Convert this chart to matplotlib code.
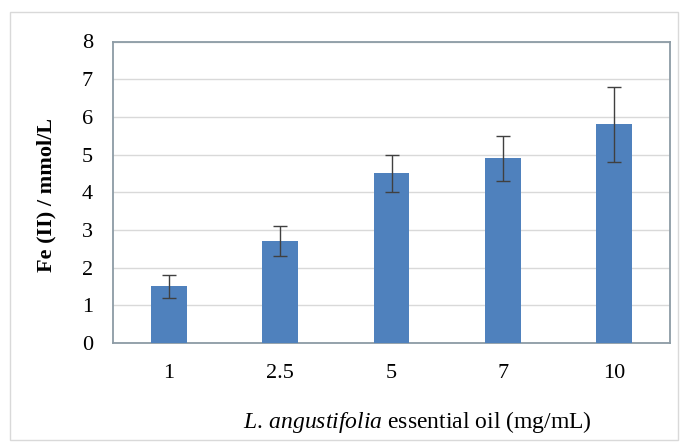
import numpy as np
import matplotlib.pyplot as plt
from matplotlib.patches import Rectangle

## ========= data ========================

concs = ['1', '2.5', '5', '7', '10']
fe_vals = [1.5, 2.7, 4.5, 4.9, 5.8]
fe_err = [0.3, 0.4, 0.5, 0.6, 1.0]

plt.rcParams['font.family'] = ['Liberation Serif', 'DejaVu Serif']
plt.rcParams['mathtext.fontset'] = 'custom'
plt.rcParams['mathtext.it'] = 'Liberation Serif:italic'
plt.rcParams['mathtext.rm'] = 'Liberation Serif'

W, H = 686, 445
fig = plt.figure(figsize=(W/100, H/100), dpi=100)
ax = fig.add_axes([113/W, 1 - 343/H, (670 - 113)/W, (343 - 41.5)/H])

# light frame round the whole chart
fig.patches.append(Rectangle((10/W, 1 - 440/H), 668/W, 428/H, transform=fig.transFigure,
                             fill=False, ec='#d9d9d9', lw=1.0))

xpos = np.arange(len(concs))
ax.bar(xpos, fe_vals, width=0.32, color='#4f81bd', zorder=3)
ax.errorbar(xpos, fe_vals, yerr=fe_err, fmt='none', ecolor='#404040',
            elinewidth=1.0, capsize=5, capthick=1.0, zorder=4)

ax.set_xlim(-0.5, len(concs) - 0.5)
ax.set_ylim(0, 8)
ax.set_yticks(range(0, 9))
ax.set_xticks(xpos)
ax.set_xticklabels(concs)
ax.tick_params(length=0, labelsize=16, colors='black')
ax.tick_params(axis='x', pad=15)
ax.tick_params(axis='y', pad=14.5)
ax.grid(axis='y', color='#d9d9d9', lw=1.0, zorder=0)
for s in ax.spines.values():
    s.set_color('#8c9ba5')
    s.set_linewidth(1.3)

ax.set_ylabel('Fe (II) / mmol/L', fontsize=16, fontweight='bold')
ax.yaxis.set_label_coords(-57/557, 0.49)
ax.set_xlabel(r'$\mathit{L.\,angustifolia}$ essential oil (mg/mL)', fontsize=17)
ax.xaxis.set_label_coords((417 - 113)/557, -66/301.5)

fig.savefig('out.png', dpi=100)
